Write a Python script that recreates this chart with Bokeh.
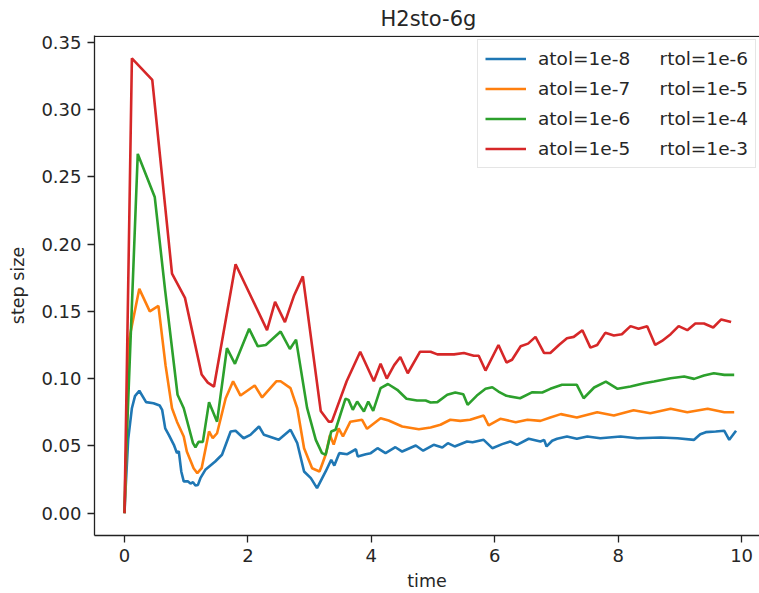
from bokeh.plotting import figure
from bokeh.models import Legend, LegendItem, FixedTicker, PrintfTickFormatter, Range1d, Span
from bokeh.embed import file_html
from bokeh.resources import INLINE

title = "H2sto-6g"
SP = "\u00a0" * 5
labels = ["atol=1e-8" + SP + "rtol=1e-6",
          "atol=1e-7" + SP + "rtol=1e-5",
          "atol=1e-6" + SP + "rtol=1e-4",
          "atol=1e-5" + SP + "rtol=1e-3"]
colors = ["#1f77b4", "#ff7f0e", "#2ca02c", "#d62728"]
x_ticks = [0, 2, 4, 6, 8, 10]
y_ticks = [0.0, 0.05, 0.10, 0.15, 0.20, 0.25, 0.30, 0.35]

blue_t = [0.0, 0.02, 0.06, 0.12, 0.17, 0.24, 0.35, 0.47, 0.57, 0.61, 0.66, 0.72, 0.80, 0.85, 0.88, 0.92, 0.96, 1.03, 1.07, 1.11,
          1.15, 1.19, 1.23, 1.31, 1.47, 1.58, 1.72, 1.80, 1.93, 2.04, 2.18, 2.26, 2.50, 2.69, 2.80, 2.91, 3.02, 3.12, 3.26, 3.35,
          3.40, 3.48, 3.61, 3.75, 3.78, 3.91, 3.99, 4.10, 4.23, 4.39, 4.50, 4.72, 4.84, 5.01, 5.15, 5.24, 5.35, 5.55, 5.64, 5.82,
          5.96, 6.12, 6.25, 6.36, 6.55, 6.74, 6.80, 6.84, 6.93, 7.01, 7.17, 7.33, 7.50, 7.71, 8.04, 8.31, 8.69, 8.96, 9.23, 9.33,
          9.42, 9.58, 9.72, 9.80, 9.91]
blue_v = [0.0, 0.02, 0.055, 0.078, 0.087, 0.091, 0.0825, 0.0817, 0.080, 0.0768, 0.063, 0.058, 0.0508, 0.0446, 0.046, 0.031, 0.0236, 0.0236, 0.022, 0.023,
          0.0206, 0.021, 0.026, 0.0322, 0.0384, 0.0434, 0.0607, 0.0612, 0.0557, 0.0582, 0.0644, 0.0582, 0.0545, 0.062, 0.052, 0.031, 0.026, 0.0186, 0.031, 0.0397,
          0.0354, 0.0446, 0.0438, 0.0475, 0.0421, 0.0438, 0.0446, 0.0483, 0.0446, 0.049, 0.0458, 0.0503, 0.0464, 0.0508, 0.0488, 0.052, 0.0496, 0.0533, 0.0527, 0.0545,
          0.0483, 0.0513, 0.0533, 0.0508, 0.0553, 0.0533, 0.0545, 0.0496, 0.0538, 0.0553, 0.057, 0.0553, 0.057, 0.0557, 0.057, 0.0557, 0.0562, 0.0557, 0.0545, 0.0587,
          0.0602, 0.0607, 0.0612, 0.0545, 0.0612]

orange_t = [0.0, 0.015, 0.07, 0.24, 0.41, 0.55, 0.665, 0.77, 0.85, 0.96, 1.01, 1.12, 1.18, 1.25, 1.37, 1.43, 1.50, 1.64, 1.76, 1.88,
            2.11, 2.23, 2.46, 2.53, 2.69, 2.80, 2.91, 3.04, 3.16, 3.26, 3.33, 3.39, 3.47, 3.54, 3.66, 3.85, 3.93, 4.15, 4.28, 4.50,
            4.77, 4.96, 5.12, 5.28, 5.44, 5.60, 5.82, 5.90, 6.09, 6.34, 6.53, 6.74, 6.90, 7.07, 7.33, 7.66, 7.93, 8.25, 8.52, 8.85,
            9.12, 9.45, 9.72, 9.88]
orange_v = [0.0, 0.02, 0.128, 0.1667, 0.150, 0.154, 0.110, 0.078, 0.068, 0.057, 0.0458, 0.0334, 0.0297, 0.0334, 0.0607, 0.0557, 0.0594, 0.0854, 0.098, 0.0874,
            0.0949, 0.086, 0.098, 0.098, 0.0929, 0.078, 0.0483, 0.0334, 0.031, 0.0434, 0.058, 0.051, 0.063, 0.057, 0.068, 0.0694, 0.0627, 0.0706, 0.0689, 0.0644,
            0.0624, 0.0637, 0.0657, 0.0694, 0.0686, 0.0694, 0.0726, 0.0652, 0.0701, 0.0676, 0.0694, 0.0686, 0.0711, 0.0736, 0.0711, 0.075, 0.0726, 0.0765, 0.0743, 0.0776,
            0.075, 0.0776, 0.075, 0.075]

green_t = [0.0, 0.015, 0.215, 0.49, 0.66, 0.86, 0.96, 1.11, 1.15, 1.20, 1.27, 1.37, 1.50, 1.66, 1.79, 2.02, 2.16, 2.29, 2.53, 2.68,
           2.78, 2.96, 3.10, 3.20, 3.26, 3.35, 3.42, 3.58, 3.63, 3.70, 3.77, 3.88, 3.95, 4.03, 4.15, 4.27, 4.42, 4.57, 4.74, 4.88,
           4.96, 5.07, 5.23, 5.36, 5.49, 5.56, 5.71, 5.85, 5.96, 6.06, 6.19, 6.41, 6.61, 6.77, 6.90, 7.09, 7.33, 7.44, 7.61, 7.80,
           7.99, 8.20, 8.42, 8.58, 8.85, 9.07, 9.23, 9.39, 9.55, 9.72, 9.88]
green_v = [0.0, 0.03, 0.267, 0.235, 0.165, 0.088, 0.078, 0.052, 0.049, 0.053, 0.053, 0.0825, 0.068, 0.1226, 0.111, 0.137, 0.124, 0.125, 0.135, 0.122,
           0.129, 0.078, 0.0545, 0.0446, 0.0434, 0.0607, 0.062, 0.085, 0.0842, 0.0768, 0.083, 0.0756, 0.083, 0.076, 0.093, 0.096, 0.0917, 0.085, 0.0837, 0.0837,
           0.0822, 0.0825, 0.088, 0.0897, 0.0884, 0.0805, 0.0874, 0.0924, 0.0936, 0.0904, 0.0872, 0.0854, 0.0899, 0.0897, 0.0924, 0.0954, 0.0954, 0.0854, 0.0934, 0.0978,
           0.0924, 0.0941, 0.0966, 0.0978, 0.1003, 0.1016, 0.0998, 0.1023, 0.104, 0.1028, 0.1028]

red_t = [0.0, 0.12, 0.45, 0.77, 0.98, 1.25, 1.35, 1.45, 1.80, 2.31, 2.44, 2.60, 2.75, 2.89, 3.18, 3.31, 3.36, 3.60, 3.82, 4.04,
         4.15, 4.25, 4.37, 4.47, 4.59, 4.79, 4.96, 5.07, 5.34, 5.50, 5.66, 5.74, 5.85, 6.06, 6.19, 6.28, 6.42, 6.54, 6.66, 6.80,
         6.90, 7.04, 7.17, 7.28, 7.42, 7.55, 7.66, 7.79, 7.93, 8.06, 8.20, 8.33, 8.47, 8.60, 8.71, 8.85, 8.98, 9.12, 9.25, 9.39,
         9.54, 9.67, 9.83]
red_v = [0.0, 0.338, 0.322, 0.178, 0.160, 0.103, 0.097, 0.094, 0.185, 0.136, 0.157, 0.142, 0.162, 0.176, 0.076, 0.068, 0.068, 0.098, 0.120, 0.098,
         0.111, 0.100, 0.110, 0.116, 0.104, 0.120, 0.120, 0.118, 0.118, 0.119, 0.117, 0.117, 0.106, 0.125, 0.112, 0.114, 0.124, 0.126, 0.131, 0.119,
         0.119, 0.125, 0.130, 0.131, 0.136, 0.123, 0.125, 0.134, 0.132, 0.133, 0.139, 0.137, 0.139, 0.125, 0.128, 0.133, 0.139, 0.136, 0.141, 0.141,
         0.138, 0.144, 0.142]

series = [(blue_t, blue_v), (orange_t, orange_v), (green_t, green_v), (red_t, red_v)]

FONT = "DejaVu Sans"
TXT = "#262626"
Y_END = 0.355

p = figure(width=759, height=593, output_backend="svg", toolbar_location=None,
           x_range=Range1d(-0.486, 10.29), y_range=Range1d(-0.0166, Y_END),
           min_border_left=94, min_border_right=0, min_border_top=34, min_border_bottom=58)
p.title.text = title
p.title.align = "left"
p.title.offset = 286
p.title.text_font = FONT
p.title.text_font_size = "21px"
p.title.text_font_style = "normal"
p.title.text_color = TXT
p.title.standoff = 9

p.xgrid.visible = False
p.ygrid.visible = False
p.outline_line_color = None
p.background_fill_color = "white"
p.border_fill_color = "white"

top_spine = Span(location=Y_END - 0.0006, dimension="width", line_color="#222222", line_width=1.3)
p.add_layout(top_spine)

for ax in (p.xaxis[0], p.yaxis[0]):
    ax.axis_line_color = "#222222"
    ax.axis_line_width = 1.3
    ax.major_tick_line_color = "#222222"
    ax.major_tick_line_width = 1.3
    ax.major_tick_out = 7
    ax.major_tick_in = 0
    ax.minor_tick_line_color = None
    ax.major_label_text_font = FONT
    ax.major_label_text_font_size = "18px"
    ax.major_label_text_color = TXT
    ax.major_label_standoff = 6
    ax.axis_label_text_font = FONT
    ax.axis_label_text_font_size = "17.5px"
    ax.axis_label_text_font_style = "normal"
    ax.axis_label_text_color = TXT

p.xaxis.ticker = FixedTicker(ticks=x_ticks)
p.xaxis.major_label_overrides = {t: str(t) for t in x_ticks}
p.yaxis.ticker = FixedTicker(ticks=y_ticks)
p.yaxis.formatter = PrintfTickFormatter(format="%.2f")
p.xaxis.axis_label = "time"
p.yaxis.axis_label = "step size"
p.xaxis.axis_label_standoff = 6
p.yaxis.axis_label_standoff = 10

renderers = []
for (t, v), c in zip(series, colors):
    r = p.line(t, v, line_color=c, line_width=2.6)
    renderers.append(r)

legend = Legend(items=[LegendItem(label=l, renderers=[r]) for l, r in zip(labels, renderers)],
                location=(383, 367), margin=0, padding=7, spacing=7,
                glyph_width=41, glyph_height=23, label_height=23, label_standoff=12,
                label_text_font=FONT, label_text_font_size="18.5px", label_text_color=TXT,
                border_line_color="#cccccc", border_line_width=1.2,
                background_fill_color="white", background_fill_alpha=0.8)
p.add_layout(legend, "center")

open("out.html", "w").write(file_html(p, INLINE))
